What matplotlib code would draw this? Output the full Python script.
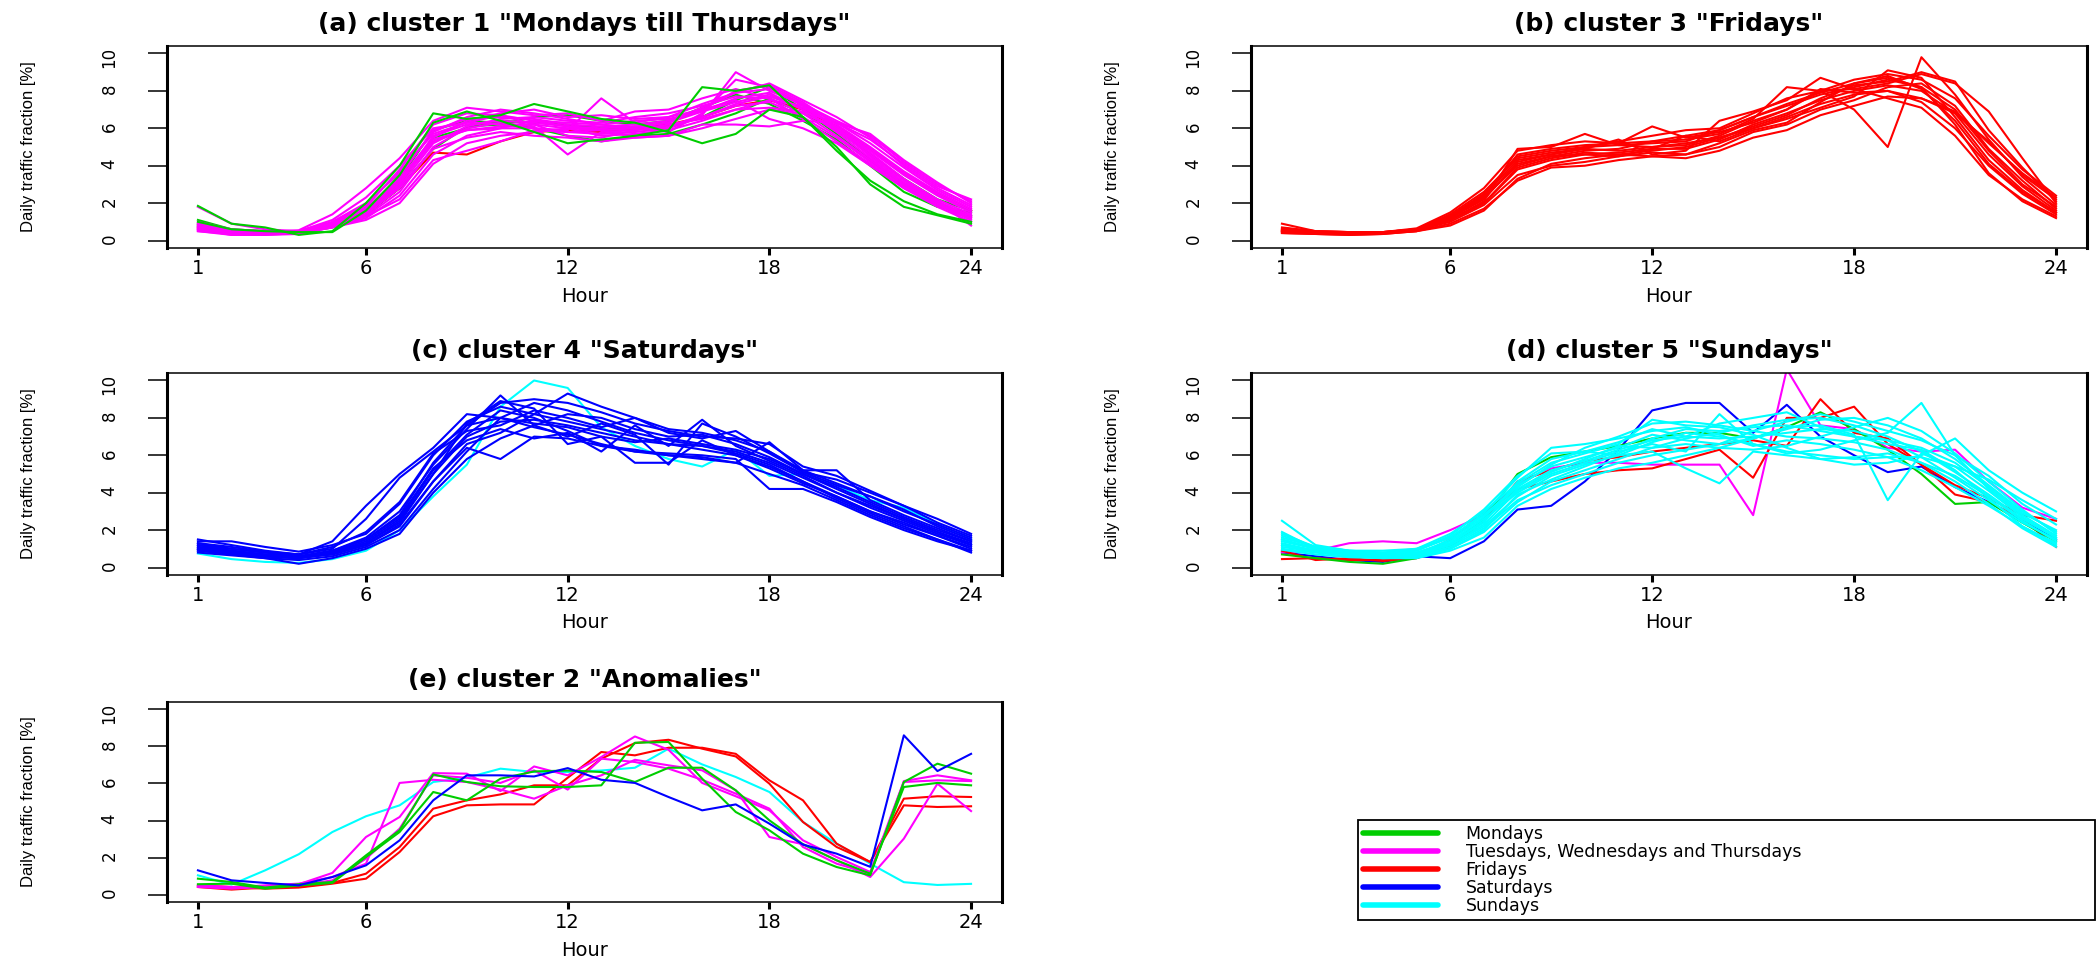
import numpy as np
import matplotlib
matplotlib.use("Agg")
import matplotlib.pyplot as plt
from matplotlib import font_manager
from matplotlib.lines import Line2D

# hour of day on the x axis
hours = np.arange(1, 25)
xtick_hours = [1, 6, 12, 18, 24]
ytick_vals = [0, 2, 4, 6, 8, 10]

legend_names = ["Mondays", "Tuesdays, Wednesdays and Thursdays", "Fridays", "Saturdays", "Sundays"]
legend_keys = ["mon", "tue", "fri", "sat", "sun"]

# ---- (a) cluster 1 : day type of every profile, then the profiles (drawing order)
a_days = ["fri", "mon", "mon", "mon",
          "tue", "tue", "tue", "tue", "tue", "tue", "tue", "tue",
          "tue", "tue", "tue", "tue", "tue", "tue", "tue", "tue",
          "mon", "mon"]
a_curves = [
    [0.7, 0.45, 0.4, 0.45, 0.8, 1.4, 2.8, 4.7, 4.6, 5.3, 5.8, 5.9, 5.8, 6.0, 6.2, 6.6, 7.2, 7.5, 7.0, 6.1, 4.9, 3.6, 2.5, 1.6],
    [0.9, 0.5, 0.4, 0.4, 0.8, 1.5, 3.0, 5.5, 6.0, 6.4, 6.3, 6.2, 6.0, 6.0, 6.1, 6.6, 7.5, 8.2, 7.0, 5.7, 4.3, 3.0, 2.0, 1.3],
    [0.8, 0.55, 0.45, 0.4, 0.7, 1.4, 2.8, 4.9, 6.1, 6.2, 6.6, 6.7, 6.4, 6.2, 6.4, 7.1, 7.8, 7.3, 6.4, 5.4, 4.0, 2.6, 1.8, 1.5],
    [1.1, 0.6, 0.5, 0.45, 0.75, 1.6, 3.3, 5.9, 6.4, 6.3, 6.0, 5.6, 5.3, 5.6, 5.7, 6.2, 6.8, 7.6, 6.8, 5.9, 4.6, 3.3, 2.2, 1.6],
    [0.6, 0.45, 0.4, 0.45, 0.8, 1.5, 3.0, 5.6, 6.2, 6.4, 6.3, 6.1, 6.0, 6.1, 6.3, 6.9, 7.6, 7.9, 7.0, 5.8, 4.4, 3.0, 2.0, 1.2],
    [0.8, 0.5, 0.45, 0.5, 0.9, 1.7, 3.4, 5.9, 6.5, 6.6, 6.5, 6.2, 6.1, 6.2, 6.4, 7.1, 7.9, 8.1, 7.2, 6.0, 4.7, 3.3, 2.2, 1.4],
    [0.5, 0.35, 0.35, 0.4, 0.7, 1.2, 2.4, 4.6, 5.6, 6.0, 6.0, 5.8, 5.7, 5.8, 6.0, 6.6, 7.3, 7.7, 7.1, 6.1, 4.9, 3.6, 2.5, 1.6],
    [1.0, 0.6, 0.5, 0.5, 0.9, 1.8, 3.8, 6.2, 6.8, 6.7, 6.4, 6.1, 5.9, 6.0, 6.1, 6.6, 7.2, 7.4, 6.6, 5.5, 4.2, 2.9, 1.9, 1.1],
    [0.7, 0.4, 0.4, 0.45, 0.85, 1.6, 3.2, 5.4, 5.9, 6.1, 6.2, 6.0, 5.6, 5.7, 5.9, 6.4, 7.0, 7.5, 7.2, 6.3, 5.2, 3.9, 2.7, 1.8],
    [1.8, 0.9, 0.6, 0.5, 0.8, 1.4, 2.9, 5.2, 6.1, 6.5, 6.6, 6.4, 6.3, 6.6, 6.8, 7.2, 7.7, 7.6, 6.8, 5.6, 4.3, 3.0, 2.0, 1.3],
    [0.6, 0.3, 0.3, 0.4, 0.8, 1.3, 2.2, 4.3, 4.8, 5.3, 5.9, 5.8, 5.9, 6.0, 6.3, 7.0, 8.0, 8.3, 7.4, 6.2, 5.0, 3.7, 2.6, 1.7],
    [0.9, 0.55, 0.45, 0.5, 1.0, 2.0, 3.6, 5.8, 6.6, 7.0, 6.8, 6.5, 6.2, 6.4, 6.5, 6.9, 7.4, 7.8, 7.0, 5.9, 4.6, 3.2, 2.1, 1.3],
    [0.55, 0.4, 0.35, 0.4, 0.75, 1.3, 2.6, 5.0, 6.0, 6.3, 6.1, 4.6, 5.8, 5.9, 6.1, 6.7, 9.0, 8.0, 7.3, 6.4, 5.6, 4.2, 3.0, 2.1],
    [0.7, 0.45, 0.4, 0.5, 1.1, 2.3, 4.0, 6.0, 6.3, 6.2, 6.0, 5.9, 7.6, 6.3, 6.6, 7.3, 7.9, 8.4, 7.5, 6.6, 5.5, 4.0, 2.8, 1.9],
    [0.8, 0.5, 0.45, 0.55, 1.4, 2.8, 4.4, 6.4, 7.1, 6.9, 6.7, 6.8, 6.4, 6.9, 7.0, 7.6, 8.1, 7.6, 6.5, 5.3, 4.1, 2.8, 1.9, 1.2],
    [0.65, 0.45, 0.4, 0.45, 0.8, 1.4, 2.8, 4.9, 5.5, 5.8, 5.6, 5.5, 5.3, 5.5, 5.6, 6.0, 6.5, 7.0, 6.8, 6.0, 4.8, 3.5, 2.4, 1.5],
    [0.75, 0.5, 0.45, 0.5, 0.95, 1.9, 3.7, 5.7, 6.3, 6.7, 6.2, 5.6, 5.5, 5.9, 6.2, 6.5, 7.0, 7.1, 6.9, 6.3, 5.4, 4.1, 2.9, 2.2],
    [0.6, 0.4, 0.4, 0.45, 0.85, 1.6, 3.1, 5.3, 5.9, 6.0, 6.4, 6.3, 6.2, 6.0, 5.8, 6.8, 8.6, 8.2, 7.3, 6.0, 4.5, 3.1, 2.1, 0.8],
    [0.9, 0.5, 0.45, 0.5, 0.9, 1.7, 3.3, 5.5, 6.4, 6.8, 7.0, 6.6, 6.7, 6.5, 6.6, 7.0, 7.5, 6.5, 6.0, 5.2, 4.0, 2.8, 1.8, 1.0],
    [0.5, 0.3, 0.3, 0.35, 0.7, 1.1, 2.0, 4.1, 5.2, 5.6, 5.8, 6.0, 5.9, 5.5, 5.6, 6.2, 6.2, 6.1, 6.4, 6.3, 5.7, 4.3, 3.1, 2.0],
    [1.85, 0.9, 0.7, 0.3, 0.5, 2.0, 4.0, 6.8, 6.5, 6.7, 7.3, 6.9, 6.5, 6.3, 5.8, 5.2, 5.7, 7.0, 6.6, 5.0, 3.0, 1.8, 1.35, 0.9],
    [1.0, 0.6, 0.5, 0.45, 0.45, 1.6, 3.5, 6.3, 6.9, 6.4, 5.8, 5.2, 5.4, 5.6, 5.9, 8.2, 8.0, 8.3, 6.6, 4.8, 3.2, 2.1, 1.4, 1.0],
]

# ---- (b) cluster 3 : Fridays
b_days = ["fri"] * 14
b_curves = [
    [0.5, 0.45, 0.4, 0.4, 0.55, 1.1, 2.0, 3.8, 4.3, 4.6, 4.7, 4.9, 4.9, 5.4, 6.2, 6.8, 7.5, 8.0, 8.3, 8.0, 6.8, 4.6, 2.9, 1.6],
    [0.7, 0.5, 0.45, 0.45, 0.6, 1.3, 2.4, 4.6, 4.9, 5.1, 5.2, 5.3, 5.6, 5.9, 6.6, 7.2, 7.8, 8.2, 8.6, 8.2, 7.0, 4.8, 3.0, 1.8],
    [0.4, 0.35, 0.3, 0.35, 0.5, 0.9, 1.7, 3.2, 3.9, 4.0, 4.3, 4.5, 4.4, 4.8, 5.5, 5.9, 6.7, 7.2, 7.7, 7.6, 6.9, 5.2, 3.6, 2.3],
    [0.6, 0.45, 0.4, 0.4, 0.6, 1.2, 2.2, 4.2, 4.6, 4.9, 4.8, 5.0, 5.1, 5.6, 6.4, 7.0, 8.0, 8.6, 8.9, 8.6, 7.6, 5.6, 3.8, 2.4],
    [0.9, 0.5, 0.45, 0.4, 0.55, 1.1, 2.1, 4.9, 5.0, 5.7, 5.1, 5.0, 5.2, 5.5, 6.0, 6.6, 7.3, 7.8, 8.0, 7.4, 6.0, 4.0, 2.5, 1.4],
    [0.5, 0.4, 0.35, 0.4, 0.6, 1.4, 2.6, 4.4, 4.7, 4.9, 5.4, 4.6, 4.8, 6.4, 6.9, 7.5, 8.7, 8.1, 8.4, 8.9, 8.4, 6.9, 4.4, 2.0],
    [0.45, 0.4, 0.35, 0.4, 0.55, 1.0, 1.9, 3.5, 4.0, 4.2, 4.5, 4.9, 5.6, 5.3, 6.0, 6.5, 7.1, 7.7, 9.1, 8.7, 6.6, 4.3, 2.7, 1.5],
    [0.6, 0.45, 0.4, 0.4, 0.5, 1.2, 2.3, 4.0, 4.5, 4.6, 4.5, 4.7, 4.6, 5.2, 5.9, 6.3, 7.4, 8.4, 8.7, 8.2, 6.2, 3.6, 2.1, 1.2],
    [0.55, 0.4, 0.4, 0.45, 0.65, 1.5, 2.8, 4.8, 5.1, 5.3, 5.2, 6.1, 5.5, 5.8, 6.3, 7.0, 8.1, 7.9, 8.0, 7.6, 6.8, 5.3, 3.5, 2.2],
    [0.5, 0.4, 0.35, 0.4, 0.55, 1.2, 2.3, 4.1, 4.5, 4.8, 4.9, 5.3, 5.4, 5.7, 6.5, 8.2, 8.0, 7.0, 5.0, 9.8, 7.8, 5.4, 3.4, 1.9],
    [0.4, 0.35, 0.3, 0.35, 0.5, 0.8, 1.6, 3.3, 4.1, 4.4, 4.6, 4.8, 5.0, 5.5, 6.1, 6.7, 7.6, 8.3, 8.5, 9.0, 8.5, 5.9, 3.9, 2.1],
    [0.65, 0.5, 0.45, 0.45, 0.6, 1.3, 2.5, 4.5, 4.8, 5.0, 5.3, 5.6, 5.9, 6.0, 6.8, 7.6, 8.0, 8.1, 7.6, 7.1, 5.6, 3.5, 2.2, 1.3],
    [0.5, 0.4, 0.35, 0.4, 0.6, 1.1, 2.0, 3.9, 4.4, 4.7, 4.6, 4.5, 4.6, 5.0, 5.8, 6.2, 7.0, 7.5, 8.2, 8.4, 7.2, 4.9, 3.2, 1.7],
    [0.55, 0.45, 0.4, 0.45, 0.6, 1.3, 2.4, 4.3, 4.6, 5.0, 5.1, 5.2, 5.3, 5.9, 6.6, 7.3, 7.9, 8.4, 8.8, 8.1, 6.4, 4.1, 2.6, 1.5],
]

# ---- (c) cluster 4 : Saturdays (one Sunday among them)
c_days = ["sun"] + ["sat"] * 14
c_curves = [
    [0.75, 0.45, 0.3, 0.25, 0.45, 0.9, 2.0, 3.8, 5.5, 8.6, 10.0, 9.6, 7.5, 6.5, 5.8, 5.4, 6.3, 4.9, 5.0, 4.4, 3.6, 3.2, 2.3, 1.5],
    [1.0, 0.8, 0.6, 0.5, 0.8, 1.3, 2.5, 5.0, 7.0, 7.8, 7.9, 7.6, 7.2, 6.8, 6.6, 6.5, 6.2, 5.6, 4.8, 4.0, 3.2, 2.5, 1.8, 1.2],
    [1.4, 1.4, 1.1, 0.85, 1.2, 1.8, 3.4, 6.0, 7.8, 8.6, 8.2, 7.8, 7.4, 7.0, 6.6, 6.3, 6.0, 5.4, 4.6, 3.8, 3.0, 2.3, 1.7, 1.0],
    [1.2, 1.0, 0.8, 0.7, 1.0, 2.6, 4.8, 6.2, 7.6, 8.0, 7.7, 7.5, 7.0, 6.7, 6.9, 6.6, 6.3, 5.8, 5.0, 4.2, 3.4, 2.6, 1.9, 1.3],
    [0.9, 0.7, 0.5, 0.4, 0.6, 1.1, 2.0, 4.2, 6.2, 8.0, 8.8, 8.4, 7.8, 7.2, 6.8, 6.5, 6.1, 5.5, 4.6, 3.7, 2.9, 2.2, 1.5, 0.9],
    [1.1, 0.9, 0.7, 0.6, 0.9, 1.6, 3.0, 5.5, 7.4, 9.2, 7.6, 8.2, 8.0, 7.4, 7.0, 7.1, 6.6, 5.9, 5.0, 4.3, 3.5, 2.7, 2.0, 1.4],
    [1.3, 1.0, 0.8, 0.6, 0.7, 1.2, 2.2, 4.6, 6.6, 7.2, 8.2, 9.3, 8.6, 8.0, 7.4, 7.2, 6.8, 6.2, 5.2, 4.5, 3.8, 3.0, 2.3, 1.6],
    [0.8, 0.65, 0.5, 0.2, 0.5, 1.0, 1.8, 4.0, 5.8, 6.9, 7.6, 7.0, 7.7, 7.1, 5.5, 7.7, 7.0, 6.1, 5.1, 4.7, 4.0, 3.3, 2.4, 1.7],
    [1.5, 1.2, 0.9, 0.7, 1.4, 3.3, 5.0, 6.4, 8.2, 8.0, 7.5, 7.1, 6.6, 6.2, 6.0, 5.9, 5.6, 5.0, 4.4, 3.6, 2.8, 2.1, 1.5, 0.8],
    [1.0, 0.8, 0.6, 0.55, 0.8, 1.4, 2.6, 5.2, 7.1, 8.4, 8.0, 7.3, 6.5, 6.2, 6.1, 6.0, 5.8, 4.2, 4.2, 3.5, 2.7, 2.0, 1.4, 0.9],
    [1.2, 0.9, 0.7, 0.6, 0.9, 1.5, 2.8, 5.6, 7.6, 8.8, 9.0, 8.8, 8.3, 7.7, 7.3, 7.0, 6.9, 6.6, 5.4, 4.9, 4.1, 3.3, 2.6, 1.8],
    [0.9, 0.75, 0.6, 0.5, 0.7, 1.2, 2.3, 4.6, 6.4, 5.8, 7.0, 6.9, 6.5, 6.3, 6.0, 5.8, 5.6, 6.7, 5.2, 5.2, 3.6, 2.8, 2.1, 1.4],
    [1.3, 1.1, 0.85, 0.7, 1.1, 1.9, 3.5, 6.1, 7.3, 7.6, 8.4, 8.0, 7.5, 8.0, 7.2, 6.9, 7.3, 6.2, 5.1, 4.4, 3.8, 3.1, 2.2, 1.5],
    [1.1, 0.85, 0.65, 0.55, 0.85, 1.5, 2.7, 5.3, 6.8, 7.4, 6.9, 7.2, 6.2, 7.6, 6.5, 7.9, 6.5, 5.7, 4.9, 4.0, 3.3, 2.6, 1.9, 1.2],
    [1.0, 0.8, 0.6, 0.5, 0.75, 1.3, 2.4, 5.0, 7.7, 8.9, 8.5, 6.6, 7.0, 5.6, 5.6, 6.8, 6.0, 5.3, 4.5, 3.8, 3.0, 2.4, 1.7, 1.1],
]

# ---- (d) cluster 5 : Sundays (plus a few holidays of other day types)
d_days = ["sat", "tue", "fri", "fri", "mon"] + ["sun"] * 14
d_curves = [
    [0.8, 0.6, 0.4, 0.3, 0.6, 0.5, 1.4, 3.1, 3.3, 4.6, 6.3, 8.4, 8.8, 8.8, 7.2, 8.7, 7.0, 6.0, 5.1, 5.4, 4.3, 3.5, 2.5, 1.5],
    [0.8, 0.9, 1.3, 1.4, 1.3, 2.0, 2.8, 4.5, 5.3, 5.6, 5.6, 5.5, 5.5, 5.5, 2.8, 10.6, 7.6, 7.4, 6.4, 6.2, 6.3, 4.6, 3.2, 2.6],
    [0.45, 0.5, 0.4, 0.4, 0.6, 1.5, 2.9, 4.2, 4.6, 5.0, 5.2, 5.3, 5.8, 6.3, 4.8, 8.0, 8.0, 8.6, 6.6, 5.5, 3.9, 3.5, 2.6, 1.1],
    [0.9, 0.4, 0.5, 0.35, 0.5, 1.1, 2.5, 4.6, 5.2, 5.7, 5.9, 6.2, 6.4, 6.6, 6.8, 6.5, 9.0, 7.2, 6.9, 5.5, 4.4, 3.7, 2.8, 2.5],
    [0.7, 0.5, 0.3, 0.2, 0.5, 1.2, 2.6, 5.0, 5.9, 6.2, 6.5, 6.9, 7.2, 7.2, 6.9, 7.5, 8.3, 7.4, 6.3, 5.0, 3.4, 3.5, 2.4, 1.4],
    [1.5, 1.0, 0.8, 0.7, 0.8, 1.3, 2.5, 4.2, 5.2, 5.7, 6.3, 6.8, 7.0, 6.9, 7.0, 7.2, 7.4, 7.3, 6.8, 5.9, 4.8, 3.6, 2.4, 1.5],
    [2.5, 1.2, 0.9, 0.8, 0.9, 1.6, 2.9, 4.8, 6.4, 6.6, 6.9, 7.3, 7.5, 7.1, 6.5, 6.8, 6.6, 6.3, 5.9, 5.2, 4.3, 3.3, 2.2, 1.3],
    [1.2, 0.9, 0.7, 0.6, 0.6, 1.0, 1.9, 3.5, 4.6, 5.2, 5.8, 6.4, 6.9, 7.2, 7.6, 7.9, 8.0, 7.6, 7.0, 6.2, 5.1, 3.9, 2.6, 1.6],
    [1.8, 1.1, 0.9, 0.8, 1.0, 1.8, 3.0, 4.5, 5.6, 6.1, 6.6, 7.9, 7.6, 7.5, 7.1, 6.4, 5.8, 5.9, 6.1, 5.6, 4.6, 3.4, 2.1, 1.1],
    [1.0, 0.8, 0.6, 0.5, 0.5, 0.9, 1.6, 3.3, 4.2, 4.8, 5.3, 5.6, 6.0, 6.4, 6.9, 7.4, 7.9, 8.0, 7.6, 6.9, 5.8, 4.4, 3.0, 1.9],
    [1.4, 1.0, 0.8, 0.7, 0.8, 1.4, 2.6, 4.0, 5.0, 5.6, 6.2, 6.6, 6.2, 8.2, 6.6, 6.1, 6.3, 6.8, 7.2, 8.8, 6.0, 4.2, 2.8, 1.7],
    [1.6, 1.1, 0.9, 0.9, 1.0, 1.6, 2.8, 4.4, 5.4, 5.9, 6.4, 7.1, 6.8, 6.6, 6.9, 7.5, 7.6, 7.1, 3.6, 6.1, 5.4, 4.1, 2.7, 1.6],
    [1.3, 0.9, 0.7, 0.6, 0.7, 1.2, 2.2, 3.8, 4.9, 5.5, 6.0, 6.2, 5.3, 4.5, 6.2, 6.0, 5.8, 5.5, 5.6, 6.0, 6.9, 5.2, 4.0, 3.0],
    [1.1, 0.85, 0.65, 0.55, 0.6, 1.1, 2.1, 3.6, 4.4, 5.0, 5.6, 6.0, 6.3, 6.6, 7.3, 7.8, 8.2, 7.8, 7.3, 6.8, 6.0, 4.9, 3.4, 2.3],
    [1.9, 1.0, 0.75, 0.65, 0.7, 1.5, 2.7, 4.3, 5.5, 6.4, 7.0, 7.7, 7.8, 7.6, 7.3, 7.0, 6.9, 6.7, 6.3, 5.6, 4.9, 3.8, 2.5, 1.4],
    [1.2, 0.9, 0.7, 0.6, 0.65, 1.2, 2.3, 4.1, 5.1, 5.8, 6.5, 6.4, 6.6, 6.4, 6.3, 6.5, 7.0, 7.5, 8.0, 7.3, 6.1, 4.6, 3.1, 1.8],
    [1.5, 1.0, 0.8, 0.65, 0.7, 1.3, 2.4, 4.6, 5.8, 6.2, 6.0, 6.7, 7.2, 7.0, 6.6, 6.2, 6.0, 5.8, 5.9, 5.9, 5.4, 4.7, 3.6, 2.6],
    [0.95, 0.7, 0.55, 0.5, 0.55, 1.0, 2.0, 3.9, 4.7, 5.4, 6.1, 6.9, 7.4, 7.3, 7.5, 7.6, 7.3, 7.0, 6.6, 6.3, 5.2, 3.7, 2.2, 1.2],
    [1.7, 1.1, 0.85, 0.75, 0.9, 1.7, 3.1, 4.9, 6.1, 6.2, 6.7, 7.4, 7.0, 7.7, 8.0, 8.3, 7.5, 7.0, 6.8, 6.4, 5.6, 4.3, 2.9, 2.0],
]

# ---- (e) cluster 2 : anomalies
e_days = ["sun", "fri", "fri", "tue", "tue", "tue", "mon", "mon", "sat"]
e_curves = [
    [1.04, 0.54, 1.31, 2.18, 3.38, 4.23, 4.82, 6.08, 6.31, 6.8, 6.62, 6.62, 6.7, 6.85, 7.88, 7.03, 6.35, 5.54, 3.92, 2.75, 1.67, 0.67, 0.52, 0.58],
    [0.5, 0.41, 0.32, 0.38, 0.59, 0.86, 2.3, 4.23, 4.82, 4.87, 4.87, 6.31, 7.7, 7.52, 7.93, 7.93, 7.6, 6.17, 5.09, 2.75, 1.76, 5.18, 5.31, 5.27],
    [0.41, 0.27, 0.38, 0.41, 0.63, 1.13, 2.57, 4.64, 5.09, 5.41, 5.9, 5.9, 7.34, 8.18, 8.36, 7.88, 7.46, 5.99, 3.92, 2.57, 1.76, 4.82, 4.73, 4.77],
    [0.45, 0.38, 0.5, 0.59, 0.95, 1.67, 6.03, 6.2, 6.08, 5.67, 5.18, 5.9, 6.44, 7.28, 6.98, 6.71, 5.63, 3.11, 2.72, 1.85, 0.95, 3.02, 5.99, 4.51],
    [0.41, 0.32, 0.41, 0.56, 1.17, 3.11, 4.19, 6.56, 6.53, 5.59, 6.92, 6.44, 7.43, 8.54, 7.82, 6.03, 5.31, 4.55, 2.93, 2.03, 1.22, 6.13, 6.44, 6.17],
    [0.5, 0.41, 0.45, 0.5, 0.77, 1.94, 3.56, 6.44, 6.31, 6.03, 6.71, 5.67, 7.34, 7.16, 6.8, 6.2, 5.45, 4.64, 2.57, 1.67, 1.13, 6.08, 6.17, 6.13],
    [0.86, 0.68, 0.38, 0.56, 0.68, 2.12, 3.47, 6.49, 6.08, 5.85, 5.81, 5.81, 5.9, 8.2, 8.24, 6.26, 4.46, 3.47, 2.21, 1.49, 1.04, 6.08, 7.07, 6.53],
    [0.56, 0.59, 0.32, 0.49, 0.63, 2.03, 3.38, 5.54, 5.09, 6.26, 6.65, 6.7, 6.62, 6.08, 6.85, 6.85, 5.63, 4.01, 2.72, 1.85, 1.13, 5.81, 6.03, 5.9],
    [1.31, 0.77, 0.63, 0.5, 0.95, 1.58, 2.93, 5.09, 6.44, 6.44, 6.38, 6.83, 6.2, 6.03, 5.27, 4.55, 4.87, 3.83, 2.7, 2.21, 1.5, 8.6, 6.67, 7.6],
]

titles = ['(a) cluster 1 "Mondays till Thursdays"', '(b) cluster 3 "Fridays"',
          '(c) cluster 4 "Saturdays"', '(d) cluster 5 "Sundays"',
          '(e) cluster 2 "Anomalies"']
panel_days = [a_days, b_days, c_days, d_days, e_days]
panel_curves = [a_curves, b_curves, c_curves, d_curves, e_curves]

# ---- styles
day_colors = {"mon": "#00CD00", "tue": "#FF00FF", "fri": "#FF0000",
              "sat": "#0000FF", "sun": "#00FFFF"}

W, H = 2100, 960
# axes boxes in pixels: (left, top, right, bottom)
boxes = [(167, 46, 1002, 248), (1251, 46, 2087, 248),
         (167, 373, 1002, 575), (1251, 373, 2087, 575),
         (167, 702, 1002, 902)]

plt.rcParams["font.family"] = "DejaVu Sans"
font_names = {f.name for f in font_manager.fontManager.ttflist}
if "Liberation Sans Narrow" in font_names:
    ylab_family, ylab_size = "Liberation Sans Narrow", 13
elif "Liberation Sans" in font_names:
    ylab_family, ylab_size = "Liberation Sans", 12
else:
    ylab_family, ylab_size = "DejaVu Sans", 11

fig = plt.figure(figsize=(W / 100, H / 100), dpi=100)
fig.patch.set_facecolor("white")

for k in range(5):
    l, t, r, b = boxes[k]
    ax = fig.add_axes([l / W, 1 - b / H, (r - l) / W, (b - t) / H])
    for day, prof in zip(panel_days[k], panel_curves[k]):
        ax.plot(hours, prof, color=day_colors[day], lw=1.5)
    ax.set_xlim(0.08, 24.92)
    ax.set_ylim(-0.4, 10.4)
    ax.set_xticks(xtick_hours)
    ax.set_yticks(ytick_vals)
    ax.tick_params(axis="x", direction="out", length=5, width=2.2, pad=3, labelsize=14)
    ax.tick_params(axis="y", direction="out", length=14, width=1.1, pad=21,
                   labelsize=12, labelrotation=90)
    for side in ["left", "right"]:
        ax.spines[side].set_linewidth(2.2)
    for side in ["top", "bottom"]:
        ax.spines[side].set_linewidth(1.1)
    ax.set_title(titles[k], fontsize=18, fontweight="bold", pad=11)
    ax.set_xlabel("Hour", fontsize=14)
    ax.xaxis.set_label_coords(0.5, -48 / (b - t))
    ax.xaxis.label.set_va("center")
    ax.set_ylabel("Daily traffic fraction [%]", family=[ylab_family, "DejaVu Sans"],
                  fontsize=ylab_size)
    ax.yaxis.set_label_coords(-138 / (r - l), 0.5)
    ax.yaxis.label.set_va("center")

handles = [Line2D([0], [0], color=day_colors[key], lw=4, solid_capstyle="round")
           for key in legend_keys]
leg = fig.legend(handles, legend_names, loc="upper left",
                 bbox_to_anchor=(1358 / W, 1 - 905 / H, (2095 - 1358) / W, 85 / H),
                 mode="expand", borderaxespad=0, fontsize=12.5, handlelength=4.3,
                 handletextpad=1.6, labelspacing=0.0, borderpad=0.3,
                 fancybox=False, framealpha=1, edgecolor="black")
leg.get_frame().set_linewidth(1.3)

fig.savefig("out.png", dpi=100, facecolor="white")
